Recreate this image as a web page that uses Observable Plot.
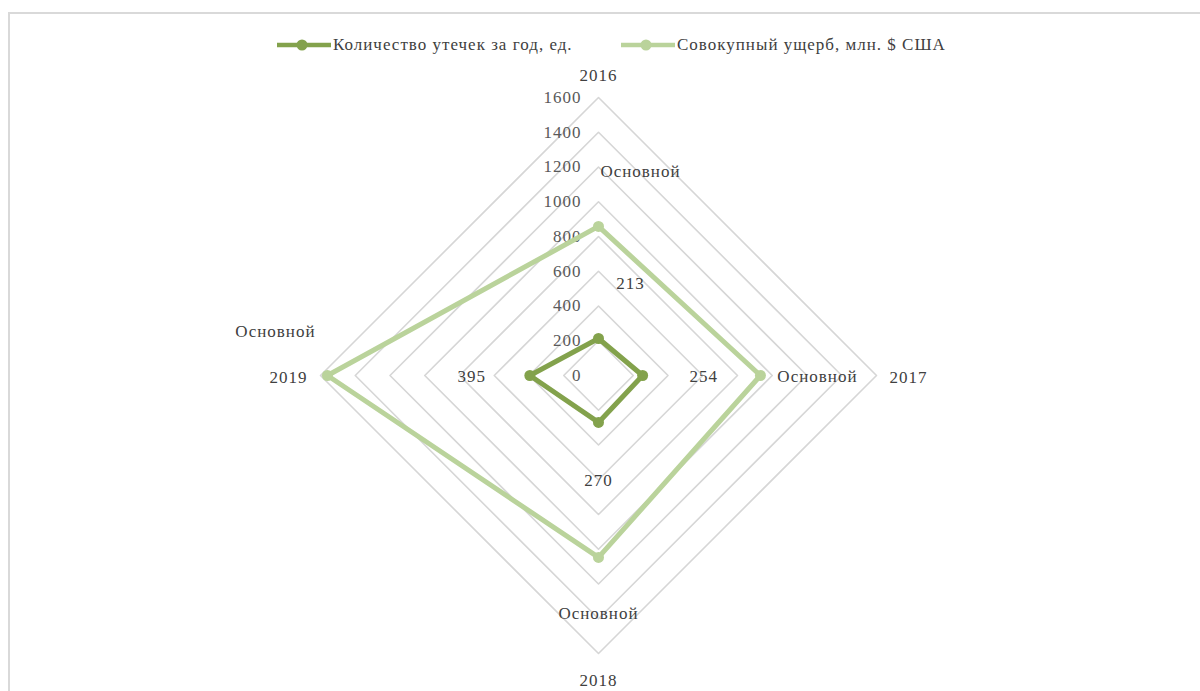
<!DOCTYPE html>
<html>
<head>
<meta charset="utf-8">
<script src="https://cdn.jsdelivr.net/npm/d3@7"></script>
<script src="https://cdn.jsdelivr.net/npm/@observablehq/plot@0.6"></script>
<style>
  html, body { margin: 0; padding: 0; background: #fff; }
  #wrap { position: relative; width: 1200px; height: 691px; overflow: hidden; font-family: "Liberation Serif", "Times New Roman", serif; }
  #frame { position: absolute; left: 8px; top: 12px; width: 1300px; height: 800px; border-top: 2px solid #d9d9d9; border-left: 2px solid #d9d9d9; }
  #legend { position: absolute; top: 33px; left: 0; width: 1200px; height: 24px; }
  .item { position: absolute; top: 0; display: flex; align-items: center; height: 24px; font-size: 17px; color: #404040; letter-spacing: 1px; }
  .item svg { margin-right: 2px; }
  #chart { position: absolute; left: 0; top: 0; }
</style>
</head>
<body>
<div id="wrap">
  <div id="frame"></div>
  <div id="chart"></div>
  <div id="legend"></div>
</div>
<script>
// Radar chart: yearly leak count vs. cumulative damage
const categories = ["2016", "2017", "2018", "2019"];
const leaks = [213, 254, 270, 395];          // Количество утечек за год, ед.
const damage = [858, 932, 1047, 1560];       // Совокупный ущерб, млн. $ США
const ringTicks = [0, 200, 400, 600, 800, 1000, 1200, 1400, 1600];
const seriesNames = ["Количество утечек за год, ед.", "Совокупный ущерб, млн. $ США"];
const damageLabel = "Основной";

const colors = ["#83a24c", "#bad39b"];
const maxR = d3.max(ringTicks);
const pxR = 278;                 // pixel radius of the outer ring
const cx = 598, cy = 375;        // centre of the radar

// angle of each category, clockwise from the top
const angle = i => i * 2 * Math.PI / categories.length;
const polar = (v, i) => ({x: v * Math.sin(angle(i)), y: v * Math.cos(angle(i))});

// grid rings (closed polygons)
const rings = ringTicks.filter(t => t > 0).flatMap(t =>
  [...categories, categories[0]].map((c, k) => ({ring: t, ...polar(t, k % categories.length)}))
);

const closed = vals => [...vals, vals[0]].map((v, k) => ({value: v, ...polar(v, k % vals.length)}));
const leakLine = closed(leaks);
const damageLine = closed(damage);
const leakPts = leaks.map((v, i) => ({value: v, cat: categories[i], i, ...polar(v, i)}));
const damagePts = damage.map((v, i) => ({value: v, cat: categories[i], i, ...polar(v, i)}));
const catPts = categories.map((c, i) => ({cat: c, i, ...polar(maxR, i)}));
const tickPts = ringTicks.map(t => ({t, x: 0, y: t}));

// label offsets (pixels) per category direction
const catOff = [[0, -22], [32, 2], [0, 27], [-32, 2]];
const leakOff = [[32, -55], [61, 1], [0, 58], [-58, 1]];
const dmgOff = [[42, -55], [57, 1], [0, 56], [-52, -44]];

const textStyle = {fontFamily: "Liberation Serif, Times New Roman, serif", fontSize: 17, fill: "#404040"};

const labelMarks = (pts, offs, textFn) => pts.map((p, i) =>
  Plot.text([p], {x: "x", y: "y", text: textFn, dx: offs[i][0], dy: offs[i][1], ...textStyle})
);

const chart = Plot.plot({
  width: 1200,
  height: 691,
  margin: 0,
  style: {background: "transparent", letterSpacing: "1px"},
  x: {domain: [-maxR, maxR], range: [cx - pxR, cx + pxR], axis: null},
  y: {domain: [-maxR, maxR], range: [cy + pxR, cy - pxR], axis: null},
  marks: [
    Plot.line(rings, {x: "x", y: "y", z: "ring", stroke: "#d6d6d6", strokeWidth: 1.6}),
    Plot.text(tickPts, {x: "x", y: "y", text: d => String(d.t), textAnchor: "end", dx: -17, ...textStyle, fill: "#595959"}),
    Plot.line(leakLine, {x: "x", y: "y", stroke: colors[0], strokeWidth: 5, strokeLinejoin: "round"}),
    Plot.dot(leakPts, {x: "x", y: "y", r: 5.5, fill: colors[0]}),
    Plot.line(damageLine, {x: "x", y: "y", stroke: colors[1], strokeWidth: 5, strokeLinejoin: "round"}),
    Plot.dot(damagePts, {x: "x", y: "y", r: 5.5, fill: colors[1]}),
    ...labelMarks(catPts, catOff, d => d.cat),
    ...labelMarks(leakPts, leakOff, d => String(d.value)),
    ...labelMarks(damagePts, dmgOff, () => damageLabel)
  ]
});
document.getElementById("chart").appendChild(chart);

// legend above the radar
const legend = document.getElementById("legend");
const legendX = [277, 621];
seriesNames.forEach((name, i) => {
  const item = document.createElement("div");
  item.className = "item";
  item.style.left = legendX[i] + "px";
  item.innerHTML =
    `<svg width="54" height="24"><line x1="0" x2="54" y1="12" y2="12" stroke="${colors[i]}" stroke-width="4.5"/>` +
    `<circle cx="25" cy="12" r="5.5" fill="${colors[i]}"/></svg><span>${name}</span>`;
  legend.appendChild(item);
});
</script>
</body>
</html>
